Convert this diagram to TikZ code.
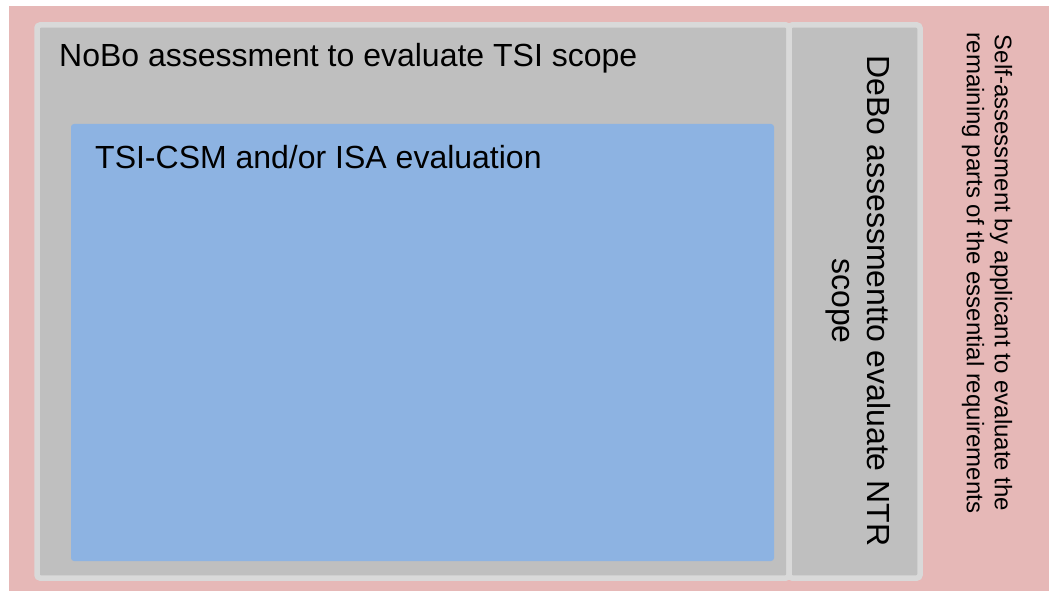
\documentclass[tikz,border=0pt]{standalone}
\usepackage{fontspec}
\setmainfont{Liberation Sans}
\definecolor{pinkbg}{HTML}{E6B8B7}
\definecolor{greybox}{HTML}{BFBFBF}
\definecolor{greyedge}{HTML}{D9D9D9}
\definecolor{bluebox}{HTML}{8DB3E2}
\tikzset{
  outer/.style={fill=pinkbg, draw=none},
  scopebox/.style={fill=greybox, draw=greyedge, line width=5.5pt, rounded corners=3pt},
  innerbox/.style={fill=bluebox, draw=none, rounded corners=3pt},
  bigtext/.style={font=\fontsize{32}{36}\selectfont, inner sep=0pt, text=black},
  debotext/.style={font=\fontsize{32}{35}\selectfont, inner sep=0pt, align=center, rotate=-90},
  selftext/.style={font=\fontsize{24}{28}\selectfont, inner sep=0pt, align=center, rotate=-90},
}
\begin{document}
\begin{tikzpicture}[x=1pt,y=-1pt]
\useasboundingbox (0,0) rectangle (1049,591);
\fill[pinkbg] (9,6) rectangle (1049,591);
\draw[scopebox] (37,25) rectangle (789,578);
\draw[scopebox] (789,25) rectangle (920,578);
\fill[innerbox] (71,124) rectangle (774,561);
\node[bigtext, anchor=base west] (nobo) at (59,67) {NoBo assessment to evaluate TSI scope};
\node[bigtext, anchor=base west] (tsi) at (95,168) {TSI-CSM and/or ISA evaluation};
\node[debotext] (debo) at (858,301) {DeBo assessmentto evaluate NTR\\scope};
\node[selftext] (self) at (987,273) {Self-assessment by applicant to evaluate the\\remaining parts of the essential requirements};
\end{tikzpicture}
\end{document}
